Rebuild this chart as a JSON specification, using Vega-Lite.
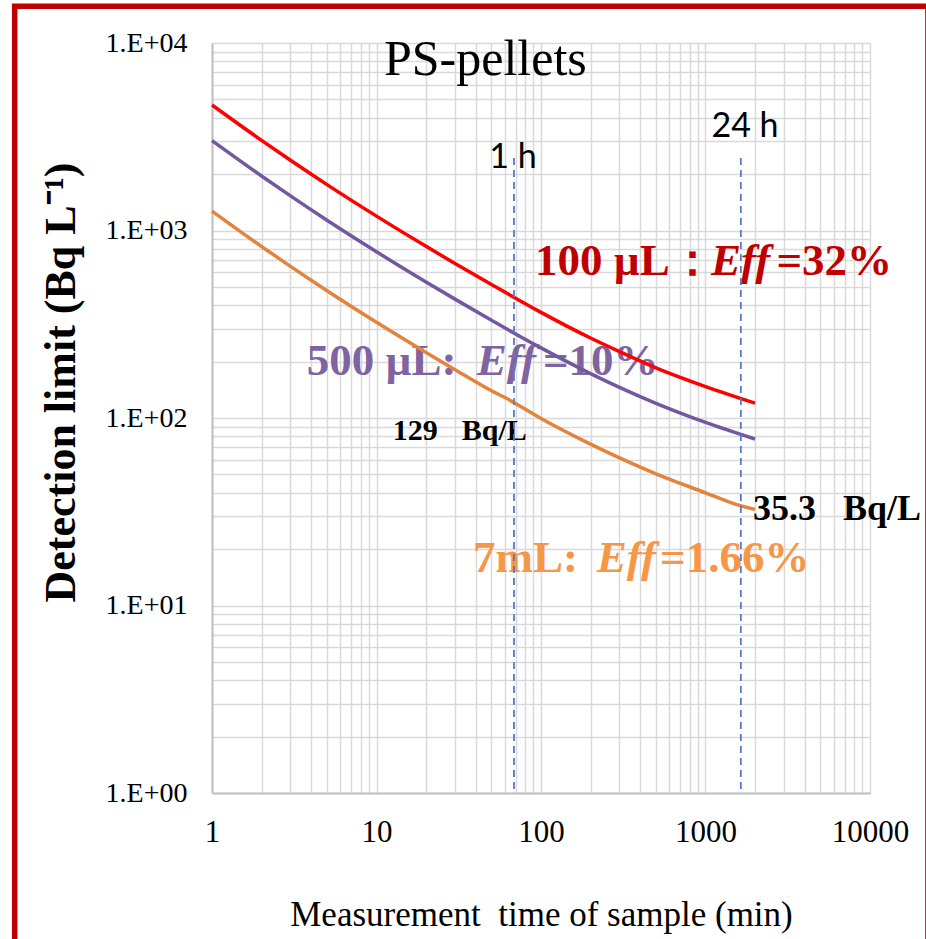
{
  "$schema": "https://vega.github.io/schema/vega-lite/v6.json",
  "width": 658,
  "height": 750,
  "autosize": {"type": "none"},
  "padding": {"left": 212, "top": 43, "right": 56, "bottom": 146},
  "background": "white",
  "config": {
    "view": {"stroke": null},
    "font": "Liberation Serif"
  },
  "datasets": {
    "curves": [
      {"series": "100 µL", "t": 1, "v": 4670},
      {"series": "100 µL", "t": 2, "v": 3025},
      {"series": "100 µL", "t": 3, "v": 2368},
      {"series": "100 µL", "t": 5, "v": 1757},
      {"series": "100 µL", "t": 10, "v": 1193},
      {"series": "100 µL", "t": 20, "v": 823},
      {"series": "100 µL", "t": 30, "v": 667},
      {"series": "100 µL", "t": 50, "v": 515},
      {"series": "100 µL", "t": 100, "v": 366},
      {"series": "100 µL", "t": 200, "v": 267},
      {"series": "100 µL", "t": 300, "v": 226},
      {"series": "100 µL", "t": 500, "v": 185},
      {"series": "100 µL", "t": 1000, "v": 147},
      {"series": "100 µL", "t": 2000, "v": 120},
      {"series": "500 µL", "t": 1, "v": 3015},
      {"series": "500 µL", "t": 2, "v": 1953},
      {"series": "500 µL", "t": 3, "v": 1529},
      {"series": "500 µL", "t": 5, "v": 1134},
      {"series": "500 µL", "t": 10, "v": 770},
      {"series": "500 µL", "t": 20, "v": 531},
      {"series": "500 µL", "t": 30, "v": 430.5},
      {"series": "500 µL", "t": 50, "v": 332},
      {"series": "500 µL", "t": 100, "v": 236.6},
      {"series": "500 µL", "t": 200, "v": 172.5},
      {"series": "500 µL", "t": 300, "v": 145.6},
      {"series": "500 µL", "t": 500, "v": 119.7},
      {"series": "500 µL", "t": 1000, "v": 94.7},
      {"series": "500 µL", "t": 2000, "v": 77.2},
      {"series": "7 mL", "t": 1, "v": 1269},
      {"series": "7 mL", "t": 2, "v": 821.6},
      {"series": "7 mL", "t": 3, "v": 643.5},
      {"series": "7 mL", "t": 5, "v": 477.5},
      {"series": "7 mL", "t": 10, "v": 324},
      {"series": "7 mL", "t": 20, "v": 223.6},
      {"series": "7 mL", "t": 30, "v": 181.1},
      {"series": "7 mL", "t": 50, "v": 139.8},
      {"series": "7 mL", "t": 60, "v": 129},
      {"series": "7 mL", "t": 100, "v": 99.5},
      {"series": "7 mL", "t": 200, "v": 72.6},
      {"series": "7 mL", "t": 300, "v": 61.3},
      {"series": "7 mL", "t": 500, "v": 50.4},
      {"series": "7 mL", "t": 1000, "v": 39.9},
      {"series": "7 mL", "t": 1440, "v": 35.3},
      {"series": "7 mL", "t": 2000, "v": 32.5}
    ],
    "markers": [
      {"label": "1 h", "t": 68.5, "v": 2436, "v2": 1},
      {"label": "24 h", "t": 1640, "v": 2436, "v2": 1}
    ],
    "markerText": [
      {"label": "1 h", "t": 67.6, "v": 2154},
      {"label": "24 h", "t": 1738, "v": 3153}
    ],
    "heading": [
      {"label": "PS-pellets", "t": 45.9, "v": 6750}
    ],
    "seriesText": [
      {"series": "100 µL", "part": "volume", "label": "100 µL：", "t": 91.94, "v": 579},
      {"series": "100 µL", "part": "symbol", "label": "Eff", "t": 1080, "v": 579},
      {"series": "100 µL", "part": "value", "label": "=32%", "t": 2700, "v": 579},
      {"series": "500 µL", "part": "volume", "label": "500 µL:", "t": 3.765, "v": 169.6},
      {"series": "500 µL", "part": "symbol", "label": "Eff", "t": 40.65, "v": 169.6},
      {"series": "500 µL", "part": "value", "label": "=10%", "t": 102.8, "v": 169.6},
      {"series": "7 mL", "part": "volume", "label": "7mL:", "t": 38.61, "v": 15.15},
      {"series": "7 mL", "part": "symbol", "label": "Eff", "t": 218.1, "v": 15.15},
      {"series": "7 mL", "part": "value", "label": "=1.66%", "t": 528.9, "v": 15.15}
    ],
    "notes": [
      {"at": "1 h", "label": "129", "t": 12.55, "v": 76.3},
      {"at": "1 h", "label": "Bq/L", "t": 32.96, "v": 76.3},
      {"at": "24 h", "label": "35.3", "t": 1945, "v": 28.58},
      {"at": "24 h", "label": "Bq/L", "t": 6853, "v": 28.58}
    ],
    "frame": [
      {"t": 0.0632, "t2": 22500, "v": 15696, "v2": 0.089}
    ]
  },
  "encoding": {
    "x": {
      "field": "t",
      "type": "quantitative",
      "scale": {"type": "log", "domain": [1, 10000], "nice": false},
      "title": "Measurement\u00a0 time of sample (min)",
      "axis": {
        "values": [1, 2, 3, 4, 5, 6, 7, 8, 9, 10, 20, 30, 40, 50, 60, 70, 80, 90, 100, 200, 300, 400, 500, 600, 700, 800, 900, 1000, 2000, 3000, 4000, 5000, 6000, 7000, 8000, 9000, 10000],
        "labelExpr": "datum.value == 1 || datum.value == 10 || datum.value == 100 || datum.value == 1000 || datum.value == 10000 ? format(datum.value, 'd') : ''",
        "grid": true,
        "gridColor": "#d9d9d9",
        "gridWidth": 1.5,
        "domain": true,
        "domainColor": "#bfbfbf",
        "domainWidth": 2,
        "ticks": false,
        "tickSize": 0,
        "labelFont": "Liberation Serif",
        "labelFontSize": 31,
        "labelColor": "#000000",
        "labelPadding": 24.5,
        "labelOverlap": false,
        "labelFlush": false,
        "labelBaseline": "top",
        "titleFont": "Liberation Serif",
        "titleFontSize": 35,
        "titleFontWeight": "normal",
        "titleColor": "#000000",
        "titlePadding": 50
      }
    },
    "y": {
      "field": "v",
      "type": "quantitative",
      "scale": {"type": "log", "domain": [1, 10000], "nice": false},
      "title": "Detection limit (Bq L⁻¹)",
      "axis": {
        "values": [1, 2, 3, 4, 5, 6, 7, 8, 9, 10, 20, 30, 40, 50, 60, 70, 80, 90, 100, 200, 300, 400, 500, 600, 700, 800, 900, 1000, 2000, 3000, 4000, 5000, 6000, 7000, 8000, 9000, 10000],
        "labelExpr": "datum.value == 1 ? '1.E+00' : datum.value == 10 ? '1.E+01' : datum.value == 100 ? '1.E+02' : datum.value == 1000 ? '1.E+03' : datum.value == 10000 ? '1.E+04' : ''",
        "grid": true,
        "gridColor": "#d9d9d9",
        "gridWidth": 1.5,
        "domain": true,
        "domainColor": "#bfbfbf",
        "domainWidth": 2,
        "ticks": false,
        "tickSize": 0,
        "labelFont": "Liberation Serif",
        "labelFontSize": 28,
        "labelColor": "#000000",
        "labelPadding": 25,
        "labelOverlap": false,
        "labelFlush": false,
        "titleFont": "Liberation Serif",
        "titleFontSize": 44,
        "titleFontWeight": "bold",
        "titleColor": "#000000",
        "titlePadding": 22,
        "titleY": 339
      }
    }
  },
  "layer": [
    {
      "data": {"name": "frame"},
      "mark": {"type": "rect", "filled": false, "stroke": "#c00000", "strokeWidth": 5.5, "clip": false},
      "encoding": {
        "x2": {"field": "t2"},
        "y2": {"field": "v2"}
      }
    },
    {
      "data": {"name": "heading"},
      "mark": {"type": "text", "font": "Liberation Serif", "fontSize": 50, "align": "center", "baseline": "alphabetic", "color": "#000000"},
      "encoding": {"text": {"field": "label"}}
    },
    {
      "data": {"name": "markerText"},
      "mark": {"type": "text", "font": "Lato", "fontSize": 34, "align": "center", "baseline": "alphabetic", "color": "#000000"},
      "encoding": {"text": {"field": "label"}}
    },
    {
      "data": {"name": "seriesText"},
      "transform": [{"filter": "datum.part != 'symbol'"}],
      "mark": {"type": "text", "font": "Liberation Serif", "fontSize": 45, "fontWeight": "bold", "align": "left", "baseline": "alphabetic"},
      "encoding": {
        "text": {"field": "label"},
        "color": {
          "field": "series",
          "type": "nominal",
          "scale": {"domain": ["100 µL", "500 µL", "7 mL"], "range": ["#c00000", "#8064a2", "#f79646"]},
          "legend": null
        }
      }
    },
    {
      "data": {"name": "seriesText"},
      "transform": [{"filter": "datum.part == 'symbol'"}],
      "mark": {"type": "text", "font": "Liberation Serif", "fontSize": 45, "fontWeight": "bold", "fontStyle": "italic", "align": "left", "baseline": "alphabetic"},
      "encoding": {
        "text": {"field": "label"},
        "color": {
          "field": "series",
          "type": "nominal",
          "scale": {"domain": ["100 µL", "500 µL", "7 mL"], "range": ["#c00000", "#8064a2", "#f79646"]},
          "legend": null
        }
      }
    },
    {
      "data": {"name": "notes"},
      "transform": [{"filter": "datum.at == '1 h'"}],
      "mark": {"type": "text", "font": "Liberation Serif", "fontSize": 30, "fontWeight": "bold", "align": "left", "baseline": "alphabetic", "color": "#000000"},
      "encoding": {"text": {"field": "label"}}
    },
    {
      "data": {"name": "notes"},
      "transform": [{"filter": "datum.at == '24 h'"}],
      "mark": {"type": "text", "font": "Liberation Serif", "fontSize": 36, "fontWeight": "bold", "align": "left", "baseline": "alphabetic", "color": "#000000"},
      "encoding": {"text": {"field": "label"}}
    },
    {
      "data": {"name": "curves"},
      "mark": {"type": "line", "strokeWidth": 3.5, "interpolate": "monotone"},
      "encoding": {
        "color": {
          "field": "series",
          "type": "nominal",
          "scale": {"domain": ["100 µL", "500 µL", "7 mL"], "range": ["#ff0000", "#7358a0", "#e2843c"]},
          "legend": null
        }
      }
    },
    {
      "data": {"name": "markers"},
      "mark": {"type": "rule", "color": "#5b79c2", "strokeWidth": 1.8, "strokeDash": [7, 5]},
      "encoding": {"y2": {"field": "v2"}}
    }
  ],
  "resolve": {"scale": {"color": "independent"}}
}
